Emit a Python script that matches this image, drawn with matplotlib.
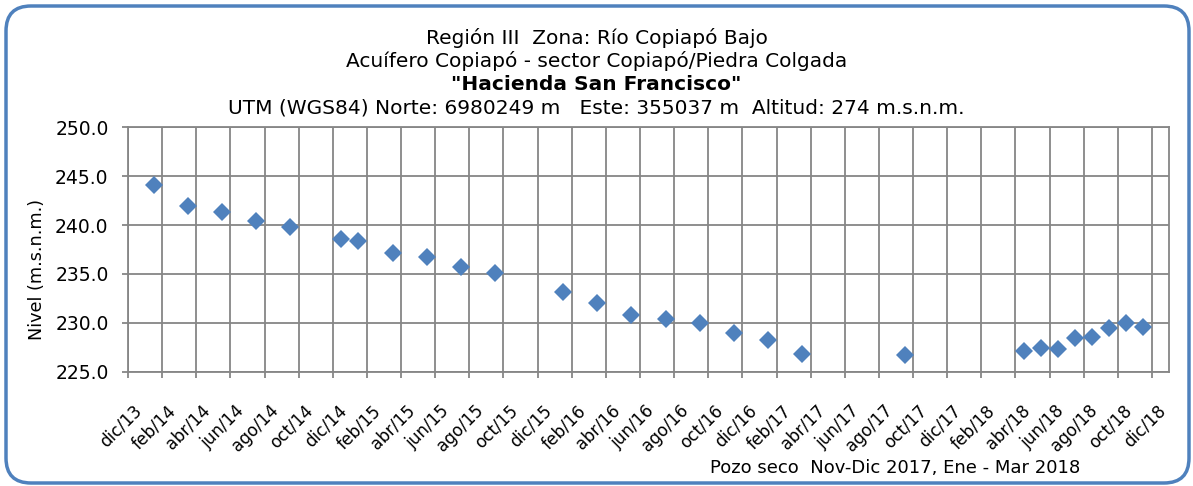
import matplotlib
matplotlib.use("Agg")
import matplotlib.pyplot as plt
from matplotlib.patches import FancyBboxPatch
from matplotlib.transforms import ScaledTranslation

# Fechas de medición (año, mes) y nivel del agua en m.s.n.m.
fechas = [(2014, 1), (2014, 3), (2014, 5), (2014, 7), (2014, 9), (2014, 12),
          (2015, 1), (2015, 3), (2015, 5), (2015, 7), (2015, 9),
          (2016, 1), (2016, 3), (2016, 5), (2016, 7), (2016, 9), (2016, 11),
          (2017, 1), (2017, 3), (2017, 9),
          (2018, 4), (2018, 5), (2018, 6), (2018, 7), (2018, 8), (2018, 9),
          (2018, 10), (2018, 11)]
nivel = [244.1, 242.0, 241.3, 240.4, 239.8, 238.6,
         238.4, 237.1, 236.7, 235.7, 235.1,
         233.2, 232.0, 230.8, 230.4, 230.0, 229.0,
         228.2, 226.8, 226.7,
         227.1, 227.4, 227.3, 228.4, 228.5, 229.5,
         230.0, 229.6]

etiquetas_x = ["dic/13", "feb/14", "abr/14", "jun/14", "ago/14", "oct/14",
               "dic/14", "feb/15", "abr/15", "jun/15", "ago/15", "oct/15",
               "dic/15", "feb/16", "abr/16", "jun/16", "ago/16", "oct/16",
               "dic/16", "feb/17", "abr/17", "jun/17", "ago/17", "oct/17",
               "dic/17", "feb/18", "abr/18", "jun/18", "ago/18", "oct/18",
               "dic/18"]
niveles_y = [225.0, 230.0, 235.0, 240.0, 245.0, 250.0]

titulo = ["Región III  Zona: Río Copiapó Bajo",
          "Acuífero Copiapó - sector Copiapó/Piedra Colgada",
          "\"Hacienda San Francisco\"",
          "UTM (WGS84) Norte: 6980249 m   Este: 355037 m  Altitud: 274 m.s.n.m."]
nota = "Pozo seco  Nov-Dic 2017, Ene - Mar 2018"

azul = "#4F81BD"
gris = "#868686"

# meses contados desde dic/13, cada punto al centro de su mes
x = [(a - 2013) * 12 + m - 12 + 0.5 for a, m in fechas]

fig = plt.figure(figsize=(11.93, 4.86), dpi=100)
ax = fig.add_axes([0.1073, 0.2352, 0.8726, 0.5028])

ax.plot(x, nivel, linestyle="none", marker="D", markersize=9,
        color=azul, markeredgewidth=0, zorder=3)

ax.set_xlim(0, 61)
ax.set_ylim(225, 250)
ax.set_xticks(range(0, 61, 2))
ax.set_xticklabels(etiquetas_x, rotation=45, ha="right",
                   rotation_mode="anchor", fontsize=12.2)
ax.set_yticks(niveles_y)
ax.set_yticklabels(["%.1f" % v for v in niveles_y], fontsize=13.5)
ax.grid(True, color=gris, linewidth=1.3)
ax.set_axisbelow(True)
for s in ax.spines.values():
    s.set_color(gris)
    s.set_linewidth(1.3)
ax.tick_params(axis="both", color=gris, width=1.3, length=4)
ax.tick_params(axis="y", pad=10)
ax.tick_params(axis="x", pad=17.5)

# corre un poco las etiquetas de fecha hacia la derecha
desplazo = ScaledTranslation(0.05, 0, fig.dpi_scale_trans)
for lbl in ax.get_xticklabels():
    lbl.set_transform(lbl.get_transform() + desplazo)

ax.set_ylabel("Nivel (m.s.n.m.)", fontsize=12.7)
ax.yaxis.set_label_coords(-0.0785, 0.42)

# títulos centrados sobre la figura
ys = [0.922, 0.874, 0.826, 0.778]
for i, (t, yy) in enumerate(zip(titulo, ys)):
    fig.text(0.5, yy, t, ha="center", va="center", fontsize=14.5,
             fontweight="bold" if i == 2 else "normal")

fig.text(0.750, 0.037, nota, ha="center", va="center", fontsize=13)

# marco redondeado alrededor del gráfico
marco = FancyBboxPatch((0.06, 0.03), 11.83, 4.77,
                       boxstyle="round,pad=0,rounding_size=0.25",
                       transform=fig.dpi_scale_trans, facecolor="none",
                       edgecolor=azul, linewidth=2.5)
fig.patches.append(marco)

fig.savefig("out.png", dpi=100)
